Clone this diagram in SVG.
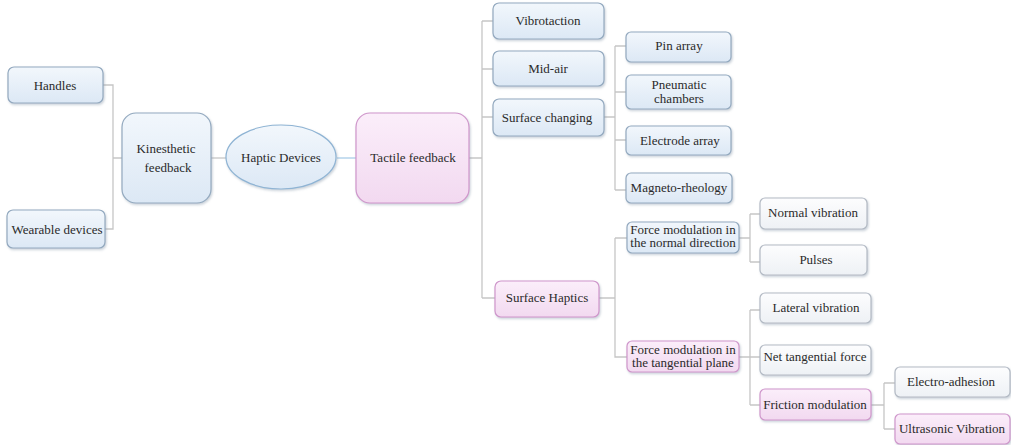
<svg xmlns="http://www.w3.org/2000/svg" width="1011" height="445" viewBox="0 0 1011 445" font-family="'Liberation Serif', 'Times New Roman', serif">
<defs>
<linearGradient id="gb" x1="0" y1="0" x2="0" y2="1"><stop offset="0" stop-color="#f2f7fc"/><stop offset="1" stop-color="#dce8f5"/></linearGradient>
<linearGradient id="gp" x1="0" y1="0" x2="0" y2="1"><stop offset="0" stop-color="#fbeefa"/><stop offset="1" stop-color="#f2d9f0"/></linearGradient>
<linearGradient id="gw" x1="0" y1="0" x2="0" y2="1"><stop offset="0" stop-color="#fdfdfe"/><stop offset="1" stop-color="#eef1f5"/></linearGradient>
<filter id="sh" x="-10%" y="-10%" width="125%" height="130%"><feDropShadow dx="1" dy="1.5" stdDeviation="1" flood-color="#8898aa" flood-opacity="0.45"/></filter>
</defs>
<style>
.b{fill:url(#gb);stroke:#93a9bf;stroke-width:1.2;filter:url(#sh)}
.p{fill:url(#gp);stroke:#cf96cb;stroke-width:1.2;filter:url(#sh)}
.w{fill:url(#gw);stroke:#b3bac4;stroke-width:1.2;filter:url(#sh)}
text{font-family:'Liberation Serif','Times New Roman',serif;font-size:13px;fill:#2a2a2a;text-anchor:middle}
.c{fill:none;stroke:#c6c6c6;stroke-width:1.3}
.cb{fill:none;stroke:#a9cde8;stroke-width:1.3}
</style>
<g id="connectors">
<path class="c" d="M103,85 H113 V229 H105 M113,158 H122"/>
<path class="c" d="M211,158 H226"/>
<path class="cb" d="M337,158 H356"/>
<path class="c" d="M469,158 H482 M482,21 V298 M482,21 H493 M482,69 H493 M482,117 H493 M482,298 H495"/>
<path class="c" d="M604,117 H615 M615,46 V190 M615,46 H626 M615,92 H626 M615,140 H626 M615,190 H626"/>
<path class="c" d="M599,298 H615 M615,238 V357 H627 M615,238 H627"/>
<path class="c" d="M739,238 H750 M750,214 V262 M750,214 H760 M750,262 H760"/>
<path class="c" d="M739,357 H760 M750,310 V405 M750,310 H760 M750,405 H760"/>
<path class="c" d="M871,405 H884 M884,383 V429 M884,383 H895 M884,429 H895"/>
</g>
<g id="handles"><rect class="b" x="8" y="67" width="95" height="36" rx="6"/><text x="55" y="90">Handles</text></g>
<g id="wearable"><rect class="b" x="7" y="210" width="98" height="38" rx="6"/><text x="57" y="234">Wearable devices</text></g>
<g id="kinesthetic"><rect class="b" x="122" y="113" width="89" height="90" rx="14"/><text x="166" y="153">Kinesthetic</text><text x="168" y="172">feedback</text></g>
<g id="haptic"><ellipse class="b" cx="281" cy="157" rx="55" ry="32" style="stroke:#8fb4d4"/><text x="281" y="162">Haptic Devices</text></g>
<g id="tactile"><rect class="p" x="356" y="113" width="113" height="90" rx="14"/><text x="413" y="162">Tactile feedback</text></g>
<g id="vibrotaction"><rect class="b" x="493" y="3" width="111" height="36" rx="6"/><text x="548" y="25">Vibrotaction</text></g>
<g id="midair"><rect class="b" x="493" y="51" width="111" height="35" rx="6"/><text x="548" y="73">Mid-air</text></g>
<g id="surfacechanging"><rect class="b" x="493" y="99" width="111" height="37" rx="6"/><text x="547" y="122">Surface changing</text></g>
<g id="pinarray"><rect class="b" x="626" y="32" width="105" height="30" rx="5"/><text x="679" y="50">Pin array</text></g>
<g id="pneumatic"><rect class="b" x="626" y="75" width="105" height="34" rx="5"/><text x="679" y="89">Pneumatic</text><text x="679" y="103">chambers</text></g>
<g id="electrode"><rect class="b" x="626" y="126" width="105" height="29" rx="5"/><text x="680" y="145">Electrode array</text></g>
<g id="magneto"><rect class="b" x="626" y="173" width="106" height="30" rx="5"/><text x="679" y="192">Magneto-rheology</text></g>
<g id="surfacehaptics"><rect class="p" x="495" y="281" width="104" height="36" rx="6"/><text x="547" y="302">Surface Haptics</text></g>
<g id="forcenormal"><rect class="b" x="627" y="222" width="112" height="31" rx="5"/><text x="683" y="234">Force modulation in</text><text x="683" y="247">the normal direction</text></g>
<g id="forcetangential"><rect class="p" x="627" y="341" width="112" height="31" rx="5"/><text x="683" y="354">Force modulation in</text><text x="683" y="367">the tangential plane</text></g>
<g id="normalvibration"><rect class="w" x="760" y="198" width="107" height="31" rx="5"/><text x="813" y="217">Normal vibration</text></g>
<g id="pulses"><rect class="w" x="760" y="245" width="107" height="30" rx="5"/><text x="816" y="264">Pulses</text></g>
<g id="lateral"><rect class="w" x="760" y="293" width="111" height="30" rx="5"/><text x="816" y="312">Lateral vibration</text></g>
<g id="nettangential"><rect class="w" x="760" y="345" width="111" height="30" rx="5"/><text x="815" y="361">Net tangential force</text></g>
<g id="friction"><rect class="p" x="760" y="389" width="111" height="31" rx="5"/><text x="815" y="409">Friction modulation</text></g>
<g id="electroadhesion"><rect class="w" x="895" y="367" width="115" height="30" rx="5"/><text x="951" y="386">Electro-adhesion</text></g>
<g id="ultrasonic"><rect class="p" x="895" y="414" width="115" height="30" rx="5"/><text x="952" y="433">Ultrasonic Vibration</text></g>
</svg>
